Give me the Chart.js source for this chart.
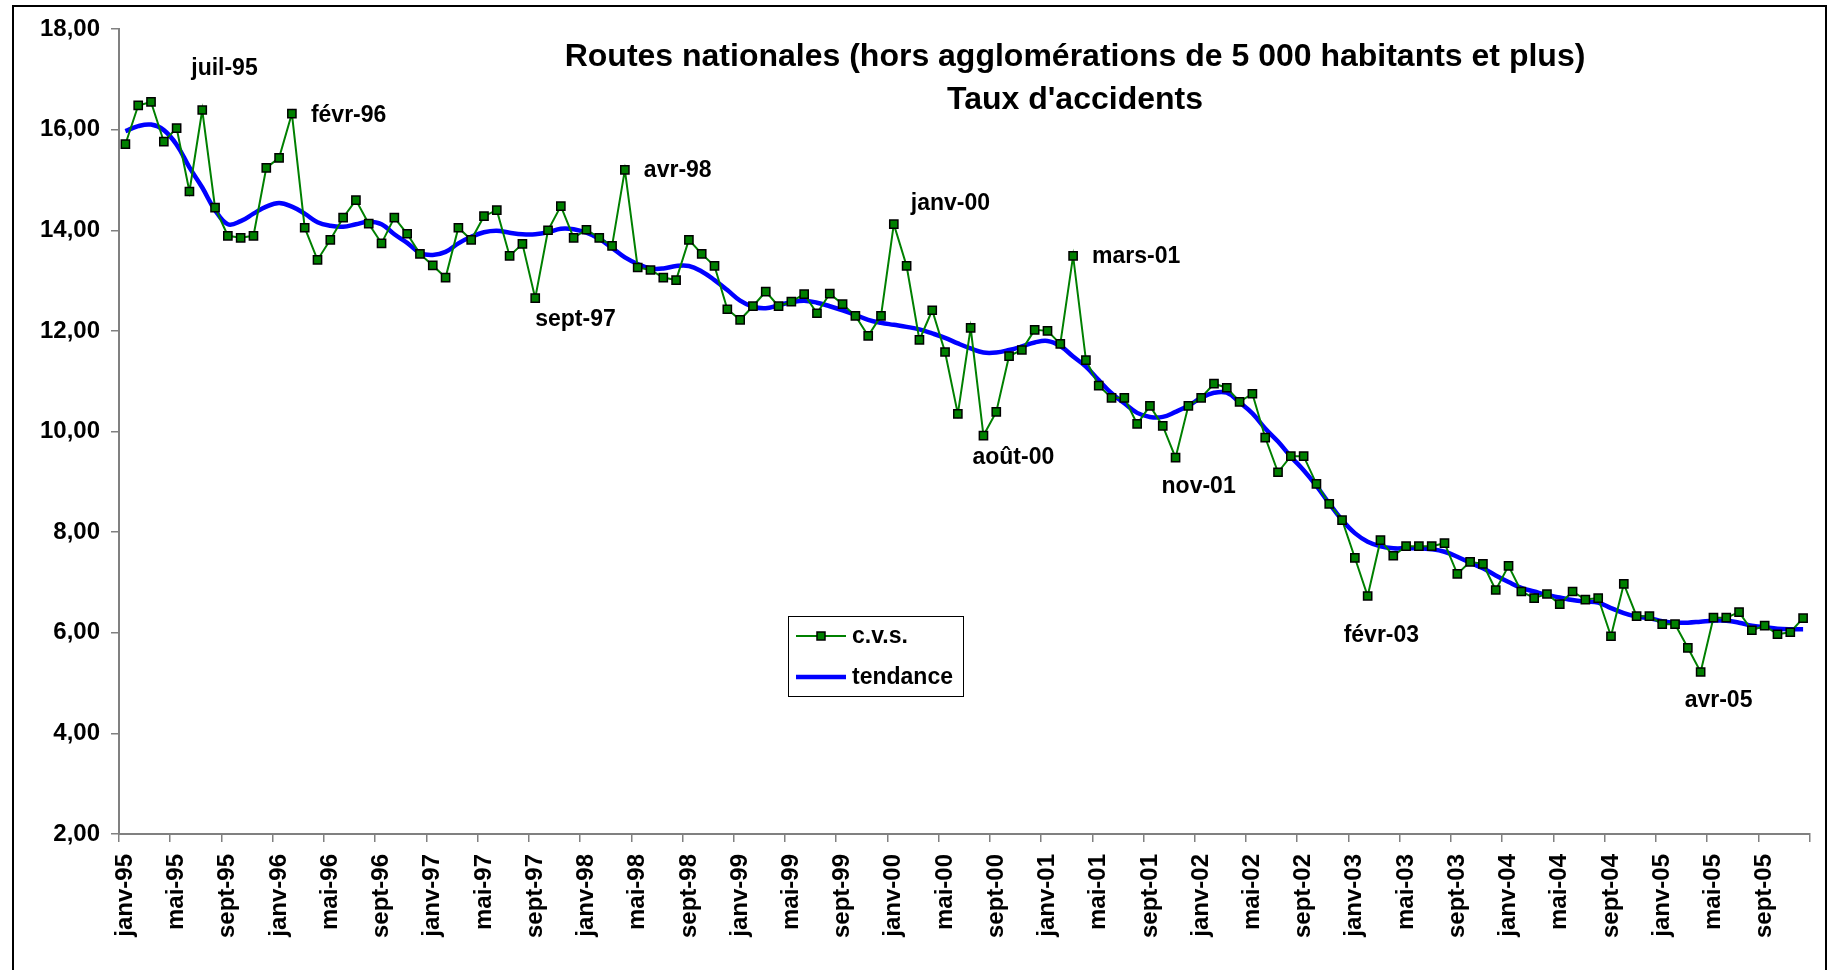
<!DOCTYPE html>
<html>
<head>
<meta charset="utf-8">
<title>Routes nationales - Taux d'accidents</title>
<script src="https://cdn.jsdelivr.net/npm/chart.js@4.4.1/dist/chart.umd.min.js"></script>
<style>
  body { margin: 0; background: #fff; overflow: hidden; }
  canvas { display: block; }
</style>
</head>
<body>
<canvas id="line-chart" width="1828" height="970"></canvas>
<script>
// axe des mois
months = ['janv', 'févr', 'mars', 'avr', 'mai', 'juin', 'juil', 'août', 'sept', 'oct', 'nov', 'déc'];
years = ['95', '96', '97', '98', '99', '00', '01', '02', '03', '04', '05'];

// série corrigée des variations saisonnières
cvs = [
  15.71, 16.48, 16.55, 15.76, 16.03, 14.77, 16.39, 14.45, 13.89, 13.85, 13.89, 15.24,
  15.44, 16.32, 14.05, 13.41, 13.81, 14.25, 14.60, 14.13, 13.74, 14.25, 13.93, 13.53,
  13.30, 13.06, 14.05, 13.81, 14.28, 14.40, 13.49, 13.73, 12.65, 14.00, 14.48, 13.85,
  14.01, 13.85, 13.69, 15.20, 13.26, 13.21, 13.06, 13.01, 13.81, 13.53, 13.29, 12.43,
  12.22, 12.49, 12.78, 12.49, 12.58, 12.73, 12.35, 12.74, 12.53, 12.30, 11.90, 12.30,
  14.12, 13.29, 11.82, 12.41, 11.58, 10.35, 12.06, 9.92, 10.39, 11.50, 11.62, 12.02,
  12.00, 11.74, 13.49, 11.42, 10.91, 10.67, 10.67, 10.15, 10.51, 10.11, 9.48, 10.51,
  10.67, 10.95, 10.87, 10.59, 10.75, 9.88, 9.19, 9.51, 9.51, 8.96, 8.56, 8.24,
  7.49, 6.73, 7.84, 7.53, 7.72, 7.72, 7.72, 7.78, 7.17, 7.41, 7.37, 6.85,
  7.33, 6.82, 6.69, 6.77, 6.57, 6.82, 6.66, 6.69, 5.93, 6.97, 6.33, 6.33,
  6.17, 6.17, 5.70, 5.22, 6.30, 6.30, 6.41, 6.05, 6.14, 5.97, 6.01, 6.29
];

// tendance
tendance = [
  15.97, 16.07, 16.10, 15.99, 15.70, 15.25, 14.85, 14.40, 14.12, 14.18, 14.33, 14.47,
  14.54, 14.47, 14.33, 14.16, 14.09, 14.07, 14.12, 14.17, 14.12, 13.92, 13.75, 13.55,
  13.51, 13.57, 13.74, 13.87, 13.96, 13.99, 13.95, 13.92, 13.92, 13.96, 14.03, 14.02,
  13.95, 13.83, 13.65, 13.46, 13.33, 13.24, 13.24, 13.29, 13.29, 13.18, 13.01, 12.81,
  12.60, 12.48, 12.45, 12.51, 12.57, 12.60, 12.56, 12.49, 12.41, 12.32, 12.22, 12.16,
  12.12, 12.08, 12.03, 11.95, 11.86, 11.75, 11.65, 11.57, 11.57, 11.62, 11.69, 11.77,
  11.80, 11.70, 11.49, 11.29, 11.02, 10.76, 10.56, 10.37, 10.29, 10.29, 10.39, 10.51,
  10.67, 10.77, 10.77, 10.58, 10.36, 10.06, 9.80, 9.50, 9.23, 8.92, 8.57, 8.24,
  7.98, 7.81, 7.72, 7.68, 7.68, 7.68, 7.66, 7.61, 7.51, 7.39, 7.28, 7.14,
  7.01, 6.89, 6.82, 6.75, 6.70, 6.65, 6.62, 6.60, 6.49, 6.39, 6.32, 6.29,
  6.23, 6.20, 6.20, 6.22, 6.24, 6.24, 6.20, 6.14, 6.11, 6.08, 6.07, 6.07
];

// mois signalés sur la courbe
annotated = ['juil-95', 'févr-96', 'sept-97', 'avr-98', 'janv-00', 'août-00', 'mars-01', 'nov-01', 'févr-03', 'avr-05'];

titleLines = ['Routes nationales (hors agglomérations de 5 000 habitants et plus)', "Taux d'accidents"];

labels = [];
for (var y in years) {
  for (var m in months) labels.push(months[m] + '-' + years[y]);
}

// décalage (px) de chaque étiquette par rapport à son point
notePos = {
  'juil-95': [-11, -41], 'févr-96': [19, 2], 'sept-97': [0, 21], 'avr-98': [19, 1],
  'janv-00': [17, -21], 'août-00': [-11, 22], 'mars-01': [19, 1], 'nov-01': [-14, 29],
  'févr-03': [-24, 40], 'avr-05': [-16, 29]
};

FONT = "'Liberation Sans', Arial, sans-serif";
Chart.defaults.font.family = FONT;
Chart.defaults.color = '#000';

var decor = {
  id: 'decor',
  beforeDraw: function(chart) {
    var ctx = chart.ctx;
    ctx.save();
    ctx.fillStyle = '#fff';
    ctx.fillRect(0, 0, chart.width, chart.height);
    ctx.strokeStyle = '#000';
    ctx.lineWidth = 2;
    ctx.strokeRect(13, 6, chart.width - 15, chart.height + 10);
    ctx.restore();
  },
  afterDraw: function(chart) {
    var ctx = chart.ctx;
    var meta = chart.getDatasetMeta(0);
    ctx.save();
    // titre
    ctx.font = 'bold 32px ' + FONT;
    ctx.textAlign = 'center';
    ctx.textBaseline = 'middle';
    ctx.fillText(titleLines[0], 1075, 57);
    ctx.fillText(titleLines[1], 1075, 100);

    // étiquettes des points remarquables
    ctx.font = 'bold 23px ' + FONT;
    ctx.textAlign = 'left';
    annotated.forEach(function(lab) {
      var pt = meta.data[labels.indexOf(lab)];
      var off = notePos[lab];
      ctx.fillText(lab, pt.x + off[0], pt.y + off[1]);
    });

    // légende
    var ds = chart.data.datasets;
    ctx.fillStyle = '#fff';
    ctx.fillRect(788, 616, 175, 80);
    ctx.strokeStyle = '#000';
    ctx.lineWidth = 1;
    ctx.strokeRect(788.5, 616.5, 175, 80);

    ctx.strokeStyle = ds[0].borderColor;
    ctx.lineWidth = ds[0].borderWidth;
    ctx.beginPath(); ctx.moveTo(796, 636); ctx.lineTo(846, 636); ctx.stroke();
    ctx.fillStyle = ds[0].pointBackgroundColor;
    ctx.fillRect(817, 632, 8, 8);
    ctx.strokeStyle = '#000';
    ctx.lineWidth = 1.5;
    ctx.strokeRect(817, 632, 8, 8);

    ctx.strokeStyle = ds[1].borderColor;
    ctx.lineWidth = ds[1].borderWidth;
    ctx.beginPath(); ctx.moveTo(796, 677); ctx.lineTo(846, 677); ctx.stroke();

    ctx.fillStyle = '#000';
    ctx.font = 'bold 23px ' + FONT;
    ctx.fillText(ds[0].label, 852, 637);
    ctx.fillText(ds[1].label, 852, 678);
    ctx.restore();
  }
};

new Chart(document.getElementById('line-chart'), {
  type: 'line',
  data: {
    labels: labels,
    datasets: [{
        data: cvs,
        label: 'c.v.s.',
        borderColor: '#008000',
        borderWidth: 2,
        pointStyle: 'rect',
        pointRadius: 5.8,
        pointBackgroundColor: '#008000',
        pointBorderColor: '#000',
        pointBorderWidth: 1.5,
        tension: 0,
        fill: false,
        order: 1
      }, {
        data: tendance,
        label: 'tendance',
        borderColor: '#0000ff',
        borderWidth: 4.5,
        pointRadius: 0,
        tension: 0.4,
        fill: false,
        order: 2
      }
    ]
  },
  options: {
    responsive: false,
    animation: false,
    layout: { padding: { left: 0, top: 29, right: 18.5, bottom: 0 } },
    plugins: {
      legend: { display: false },
      title: { display: false },
      tooltip: { enabled: false }
    },
    scales: {
      x: {
        offset: true,
        afterFit: function(s) {
          s.height = 136;
          s.paddingLeft = 0;
          s.paddingRight = 0;
        },
        border: { color: '#808080', width: 2 },
        grid: {
          offset: true,
          drawOnChartArea: false,
          tickLength: 8,
          lineWidth: 1.5,
          color: function(c) {
            return (c.index === undefined || c.index % 4 === 0) ? '#808080' : 'rgba(0,0,0,0)';
          }
        },
        ticks: {
          autoSkip: false,
          minRotation: 90,
          maxRotation: 90,
          padding: 12,
          font: { size: 24, weight: 'bold' },
          callback: function(v, i) { return i % 4 === 0 ? labels[i] : ''; }
        }
      },
      y: {
        min: 2,
        max: 18,
        afterFit: function(s) { s.width = 119; },
        border: { color: '#808080', width: 2 },
        grid: { drawOnChartArea: false, tickLength: 8, color: '#808080', lineWidth: 1.5 },
        ticks: {
          stepSize: 2,
          padding: 11,
          font: { size: 24, weight: 'bold' },
          callback: function(v) { return v.toFixed(2).replace('.', ','); }
        }
      }
    }
  },
  plugins: [decor]
});
</script>
</body>
</html>
